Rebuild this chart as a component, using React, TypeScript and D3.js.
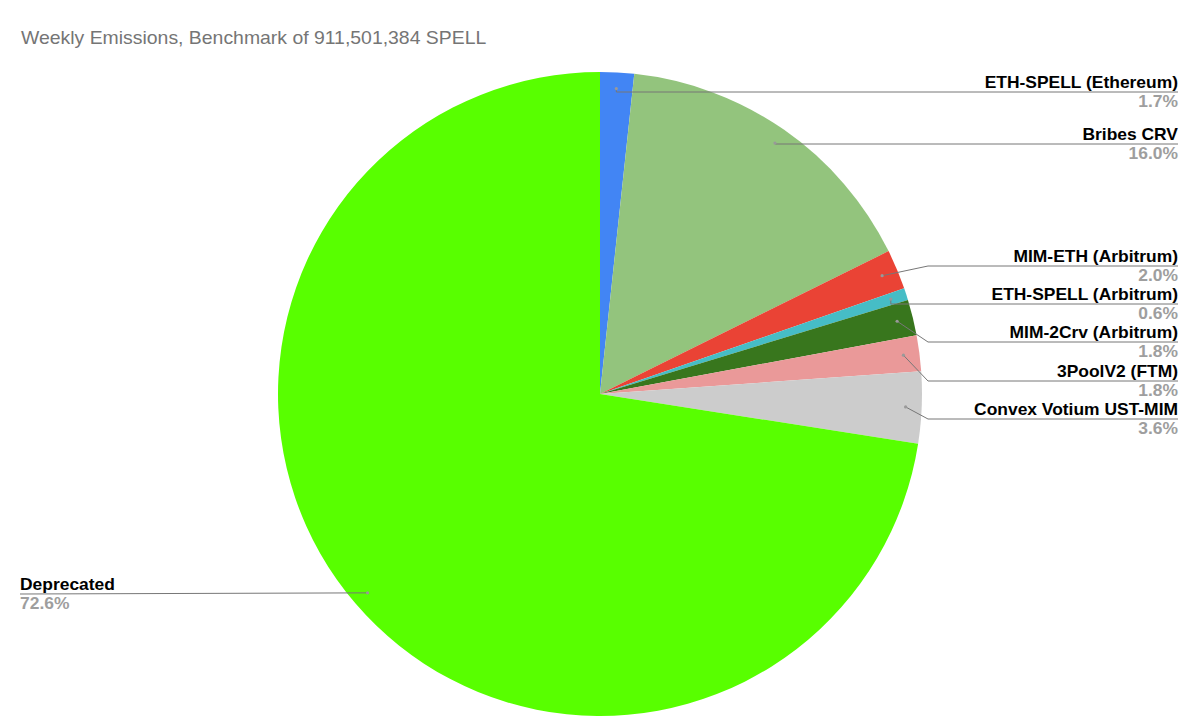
import React from "react";
import * as d3 from "d3";

const categories = [
  "ETH-SPELL (Ethereum)",
  "Bribes CRV",
  "MIM-ETH (Arbitrum)",
  "ETH-SPELL (Arbitrum)",
  "MIM-2Crv (Arbitrum)",
  "3PoolV2 (FTM)",
  "Convex Votium UST-MIM",
  "Deprecated",
];
const values = [1.7, 16.0, 2.0, 0.6, 1.8, 1.8, 3.6, 72.6];
const percentLabels = ["1.7%", "16.0%", "2.0%", "0.6%", "1.8%", "1.8%", "3.6%", "72.6%"];
const colors = ["#4285f4", "#93c47d", "#ea4335", "#46bdc6", "#38761d", "#ea9999", "#cccccc", "#58ff00"];
const title = "Weekly Emissions, Benchmark of 911,501,384 SPELL";

// layout: leader line y for each label, and side
const labelLineY = [92, 144, 266, 304, 342, 381, 419, 594];
const labelSide = ["r", "r", "r", "r", "r", "r", "r", "l"];

const W = 1200;
const H = 726;
const cx = 600;
const cy = 394;
const R = 322;
const FONT = "Liberation Sans, Arial, sans-serif";
const SX = 1.09;

export default function App() {
  const data = categories.map((c, i) => ({ c, v: values[i], i }));
  const pie = d3.pie<any>().value((d) => d.v).sort(null).startAngle(0).endAngle(2 * Math.PI);
  const arcs = pie(data);
  const arc = d3.arc<any>().innerRadius(0).outerRadius(R);
  const dotArc = d3.arc<any>().innerRadius(R * 0.95).outerRadius(R * 0.95);

  return (
    <svg width={W} height={H} style={{ position: "absolute", left: 0, top: 0, background: "#fff" }}>
      <rect width={W} height={H} fill="#fff" />
      <text transform="translate(21,44) scale(1.11,1)" fontFamily={FONT} fontSize={17.5} fill="#757575">
        {title}
      </text>
      <g transform={`translate(${cx},${cy})`}>
        {arcs.map((a, i) => (
          <path key={i} d={arc(a) as string} fill={colors[i]} />
        ))}
      </g>
      {arcs.map((a, i) => {
        const [dx, dy] = dotArc.centroid(a);
        const px = cx + dx;
        const py = cy + dy;
        const ly = labelLineY[i];
        const side = labelSide[i];
        let pts: [number, number][];
        if (side === "r") {
          const knee = Math.abs(py - ly) > 6 ? 928 : px;
          pts = [[px, py], [knee, ly], [1178, ly]];
        } else {
          pts = [[px, py], [20, ly]];
        }
        const line = d3.line()(pts) as string;
        const tx = side === "r" ? 1178 : 20;
        const anchor = side === "r" ? "end" : "start";
        return (
          <g key={i}>
            <path d={line} fill="none" stroke="#777" strokeWidth={1} />
            <circle cx={px} cy={py} r={1.6} fill="#999" />
            <text transform={`translate(${tx},${ly - 4.5}) scale(${SX},1)`} textAnchor={anchor} fontFamily={FONT} fontSize={16} fontWeight="bold" fill="#000">
              {categories[i]}
            </text>
            <text transform={`translate(${tx},${ly + 15}) scale(${SX},1)`} textAnchor={anchor} fontFamily={FONT} fontSize={16} fontWeight="bold" fill="#9e9e9e">
              {percentLabels[i]}
            </text>
          </g>
        );
      })}
    </svg>
  );
}
